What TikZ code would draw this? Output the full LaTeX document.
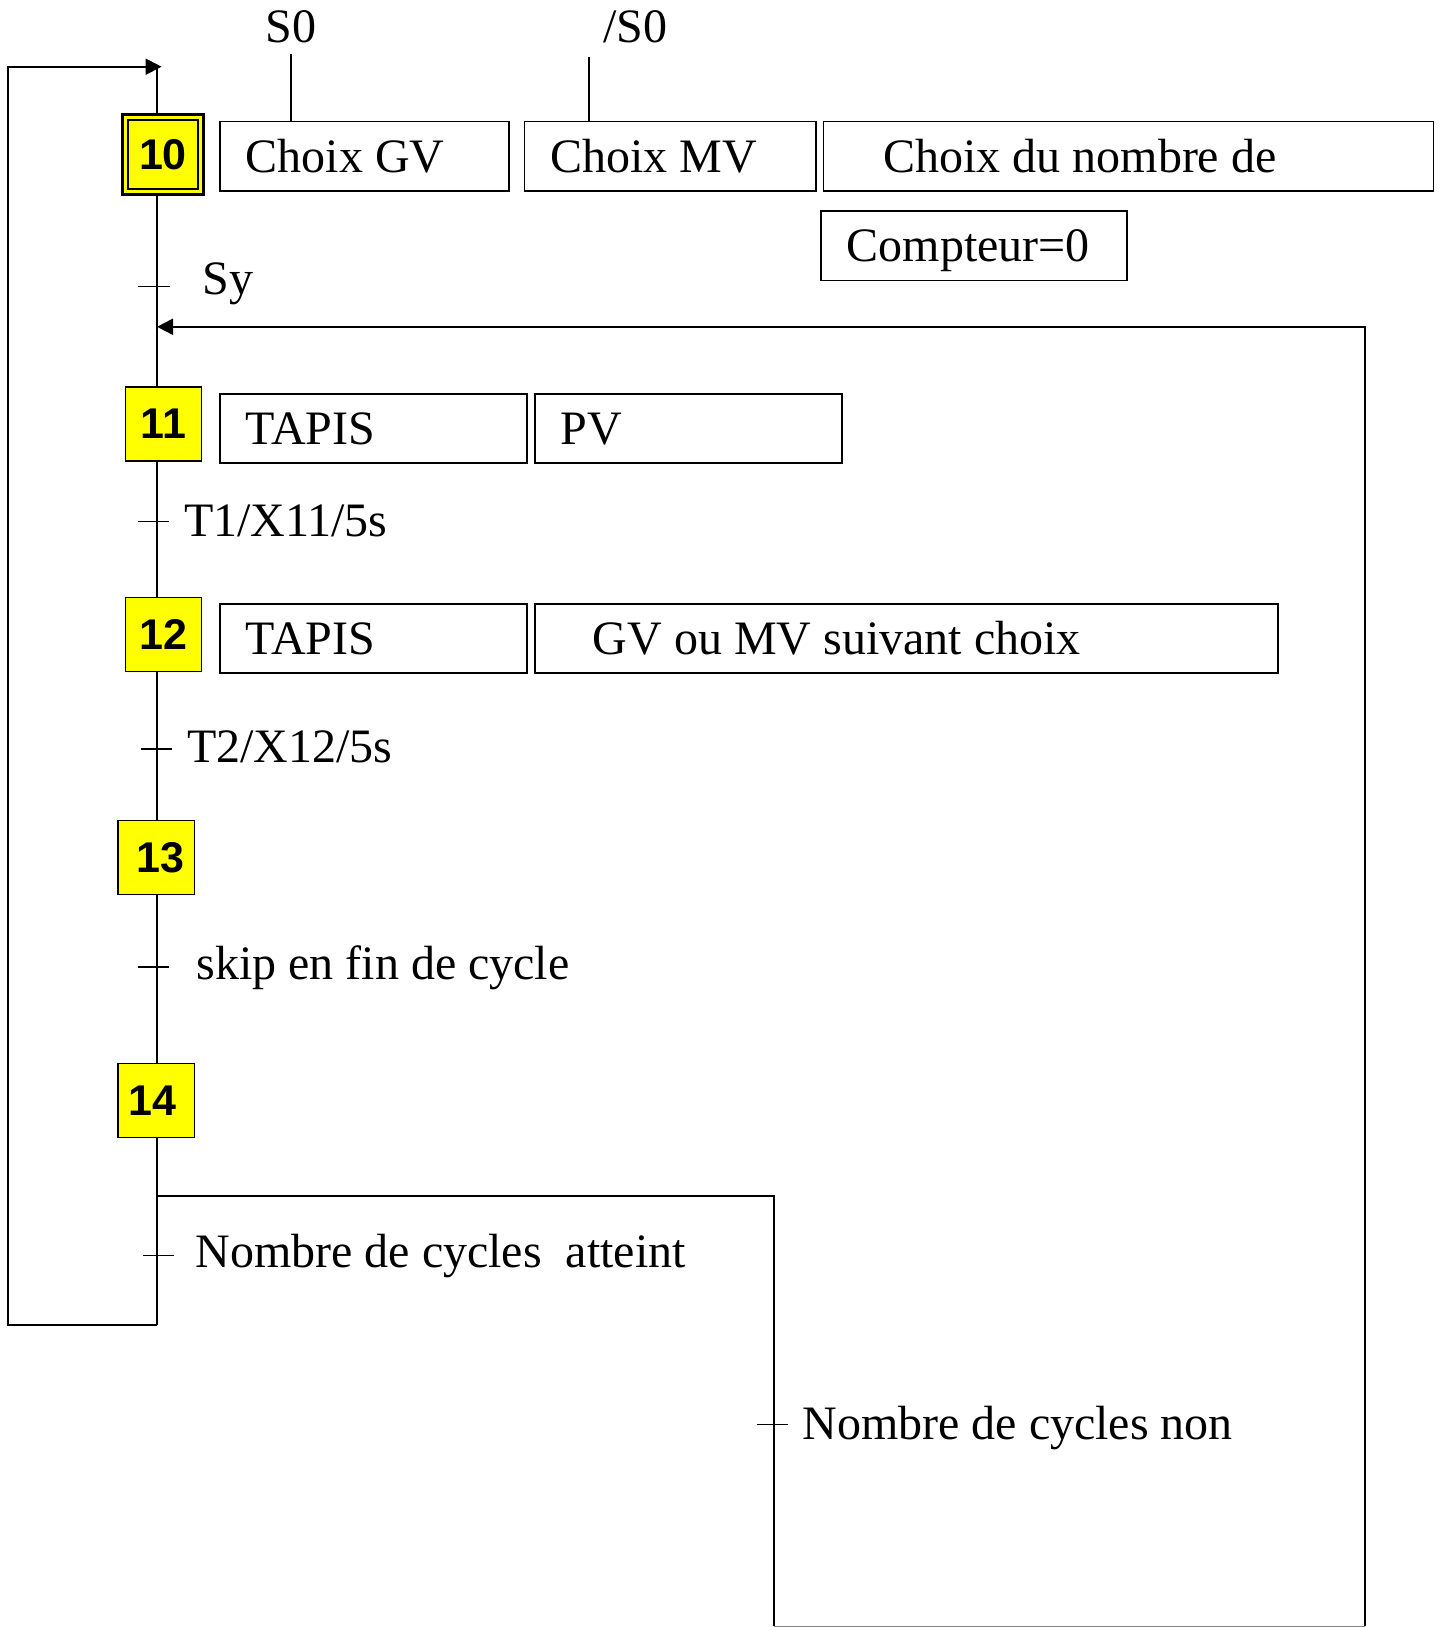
\documentclass[tikz,border=0pt]{standalone}
\usepackage{fontspec}
\setmainfont{Liberation Serif}
\newfontfamily\stepfont{Liberation Sans}
\usepackage{xcolor}
\usepackage{tikz}
\usetikzlibrary{arrows.meta,positioning}
\definecolor{stepyellow}{RGB}{255,255,0}
\tikzset{
  stepbox/.style={draw, fill=stepyellow, line width=0.7pt, minimum width=38.1pt,
    minimum height=37pt, inner sep=0pt, font=\stepfont\fontsize{21.5}{24}\selectfont\bfseries},
  initstep/.style={stepbox, double=stepyellow, double distance=1.65pt, line width=1.2pt,
    minimum width=37.8pt, minimum height=37.2pt},
  actbox/.style={draw, line width=0.8pt, minimum height=34.7pt, text width=#1, align=flush left,
    inner xsep=13pt, inner ysep=0pt, text height=15.9pt, text depth=0pt, anchor=west},
  cond/.style={inner sep=0pt, text height=15.9pt, text depth=0pt, anchor=west},
  link/.style={line width=1pt},
  tick/.style={line width=0.6pt},
  flow/.style={-{Triangle[length=8pt,width=8pt]}, line width=1pt}
}

\begin{document}
\begin{tikzpicture}[x=0.5pt, y=-0.5pt, font=\fontsize{24}{28}\selectfont]
\useasboundingbox (0,0) rectangle (1441,1627);

% axis and loop points
\coordinate (top) at (157,66.7);
\coordinate (div) at (157,1196);
\coordinate (loopbot) at (157,1325);
\coordinate (loopleft) at (8.3,1325);
\coordinate (looptop) at (8.3,66.7);
\coordinate (back) at (157,326.8);
\coordinate (backright) at (1365.2,326.8);
\coordinate (okbot) at (1365.2,1626);
\coordinate (nokright) at (773.9,1196);
\coordinate (nokbot) at (773.9,1626);

% steps
\node[initstep] (s10) at (163,154.6) {10};
\node[stepbox] (s11) at (163.4,423.8) {11};
\node[stepbox] (s12) at (163.4,634.4) {12};
\node[stepbox] (s13) at (156.1,857.4) {\hspace*{4pt}13};
\node[stepbox] (s14) at (156.1,1100.2) {14\hspace*{4pt}};

% actions
\node[actbox=118.7pt] (gv) at (218.9,156.1) {Choix GV};
\node[actbox=119.7pt, right=6.8pt of gv] (mv) {Choix MV};
\node[actbox=279pt, right=3pt of mv] (nb) {\hspace*{17pt}Choix du nombre de};
\node[actbox=127pt, anchor=north west] (cpt) at ([xshift=-1.2pt,yshift=-9.3pt]nb.south west) {Compteur=0};
\node[actbox=127.5pt] (tapis1) at (218.9,428.5) {TAPIS};
\node[actbox=127.5pt, right=3.3pt of tapis1] (pv) {PV};
\node[actbox=127.5pt] (tapis2) at (218.9,638.5) {TAPIS};
\node[actbox=345.4pt, right=3.3pt of tapis2] (gvmv) {\hspace*{16pt}GV ou MV suivant choix};

% choice of speed
\node[cond, anchor=center] (lS0) at (291,26.3) {S0};
\node[cond, anchor=center] (lnS0) at (635.3,26.3) {/S0};
\coordinate (eS0) at (291,54.3);
\coordinate (enS0) at (589,57.3);
\draw[tick] (eS0) -- (gv.north -| eS0);
\draw[tick] (enS0) -- (mv.north -| enS0);

% main line
\draw[link] (top) -- (s10.north -| top);
\draw[link] (s10.south -| top) -- (s11.north -| top);
\draw[link] (s11.south -| top) -- (s12.north -| top);
\draw[link] (s12.south -| top) -- (s13.north -| top);
\draw[link] (s13.south -| top) -- (s14.north -| top);
\draw[link] (s14.south -| top) -- (loopbot);
\draw[flow] (loopbot) -- (loopleft) -- (looptop) -- ([xshift=2.3pt]top);
\draw[link] (div) -- (nokright) -- (nokbot);
\draw[flow] (okbot) -- (backright) -- (back);
\draw[gray, line width=0.5pt] (nokbot) -- (okbot);

% transitions
\coordinate (tSy) at (157,286.3);
\coordinate (tT1) at (157,521.8);
\coordinate (tT2) at (157,749);
\coordinate (tskip) at (157,966.9);
\coordinate (tok) at (157,1255.3);
\coordinate (tnok) at (773.9,1424.4);
\draw[tick] ([xshift=-9.5pt]tSy) -- ([xshift=6.5pt]tSy);
\draw[tick] ([xshift=-9.5pt]tT1) -- ([xshift=6pt]tT1);
\draw[tick] ([xshift=-8pt]tT2) -- ([xshift=7.5pt]tT2);
\draw[tick] ([xshift=-9.5pt]tskip) -- ([xshift=6pt]tskip);
\draw[tick] ([xshift=-7pt]tok) -- ([xshift=8.5pt]tok);
\draw[tick] ([xshift=-8.5pt]tnok) -- ([xshift=7pt]tnok);
\node[cond] (cSy) at (202,279) {Sy};
\node[cond] (cT1) at (183.6,521) {T1/X11/5s};
\node[cond] (cT2) at (186.7,747) {T2/X12/5s};
\node[cond] (cskip) at (196,964) {skip en fin de cycle};
\node[cond] (cok) at (195,1252) {Nombre de cycles\ \ atteint};
\node[cond] (cnok) at (802,1424) {Nombre de cycles non};
\end{tikzpicture}
\end{document}
